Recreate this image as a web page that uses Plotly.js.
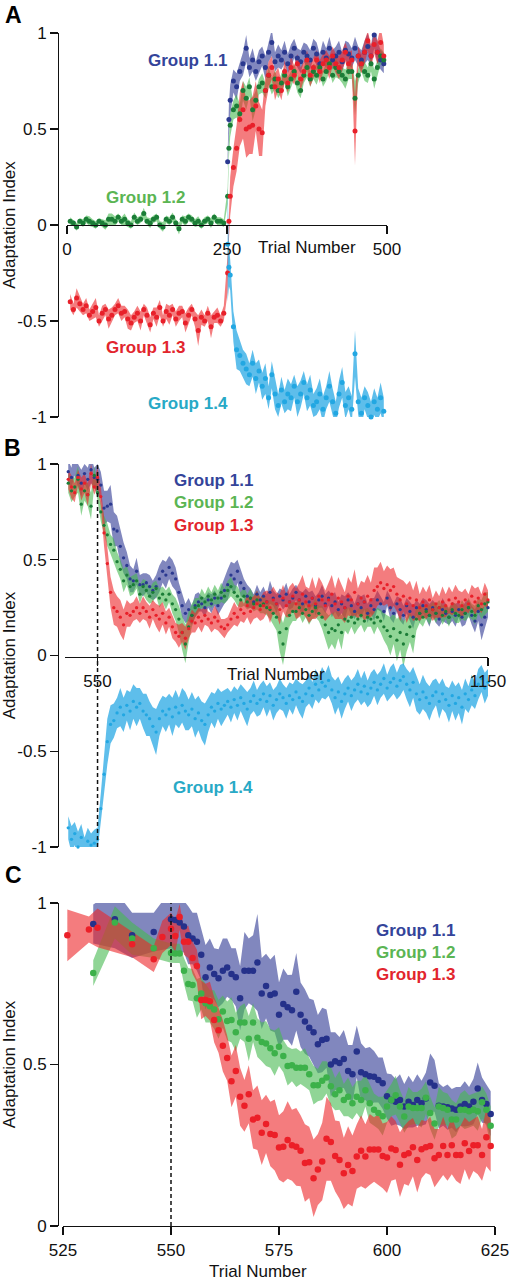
<!DOCTYPE html>
<html><head><meta charset="utf-8">
<script src="https://cdn.plot.ly/plotly-3.0.1.min.js"></script>
<style>html,body{margin:0;padding:0;background:#fff}#chart{width:511px;height:1280px}</style>
</head><body><div id="chart"></div>
<script>
// ---------------- Panel A data ----------------
const trialsPreA = [5,10,15,20,25,30,35,40,45,50,55,60,65,70,75,80,85,90,95,100,105,110,115,120,125,130,135,140,145,150,155,160,165,170,175,180,185,190,195,200,205,210,215,220,225,230,235,240,245];
const greenPreA = [0.02,0.01,-0.01,0.02,0.01,0.03,0.02,0.01,0.00,0.02, 0.01,0.00,0.03,0.03,0.02,0.04,0.02,0.03,0.01,0.00, 0.04,0.02,0.03,0.06,0.02,0.01,0.03,0.04,0.00,-0.01, 0.03,0.02,0.04,0.01,-0.02,0.03,0.02,0.04,0.03,0.01, 0.02,0.00,0.02,0.03,0.01,0.04,0.02,0.02,0.01];
const greenPreA_se = [0.02,0.015,0.02,0.015,0.02,0.02,0.025,0.02,0.02,0.015, 0.02,0.025,0.03,0.03,0.025,0.02,0.02,0.03,0.02,0.02, 0.025,0.02,0.02,0.03,0.02,0.025,0.02,0.02,0.02,0.025, 0.02,0.02,0.025,0.02,0.03,0.02,0.025,0.02,0.02,0.02, 0.025,0.02,0.02,0.02,0.025,0.02,0.02,0.02,0.02];
const redPreA = [-0.40,-0.44,-0.38,-0.41,-0.44,-0.42,-0.47,-0.45,-0.43,-0.50, -0.46,-0.44,-0.49,-0.47,-0.44,-0.42,-0.46,-0.45,-0.49,-0.51, -0.48,-0.46,-0.50,-0.44,-0.47,-0.52,-0.46,-0.48,-0.43,-0.50, -0.45,-0.47,-0.44,-0.49,-0.46,-0.45,-0.51,-0.47,-0.44,-0.49, -0.55,-0.48,-0.50,-0.46,-0.53,-0.48,-0.47,-0.50,-0.46];
const redPreA_se = [0.04,0.03,0.05,0.04,0.03,0.04,0.03,0.04,0.05,0.03, 0.04,0.03,0.05,0.04,0.03,0.04,0.04,0.03,0.05,0.04, 0.03,0.04,0.05,0.03,0.04,0.04,0.03,0.05,0.04,0.03, 0.04,0.05,0.03,0.04,0.04,0.03,0.05,0.04,0.03,0.04, 0.08,0.04,0.03,0.04,0.06,0.03,0.04,0.03,0.04];

const trialsPostA = [251,253,255,260,265,270,275,280,285,290,295,300,305,310,315,320,325,330,335,340,345,350,355,360,365,370,375,380,385,390,395,400,405,410,415,420,425,430,435,440,445,450,455,460,465,470,475,480,485,490,495];
const bluePostA = [0.33,0.55,0.65,0.75,0.72,0.80,0.84,0.92,0.82,0.86, 0.80,0.85,0.88,0.82,0.90,0.95,0.85,0.88,0.86,0.90, 0.84,0.88,0.92,0.87,0.85,0.90,0.88,0.86,0.92,0.89, 0.84,0.90,0.87,0.92,0.86,0.88,0.90,0.85,0.91,0.89, 0.87,0.92,0.88,0.86,0.90,0.93,0.88,0.99,0.90,0.86, 0.84];
const bluePostA_se = [0.04,0.08,0.08,0.06,0.07,0.05,0.06,0.07,0.05,0.06, 0.05,0.06,0.05,0.06,0.05,0.07,0.05,0.06,0.05,0.06, 0.05,0.06,0.05,0.05,0.06,0.05,0.06,0.05,0.05,0.06, 0.05,0.06,0.05,0.06,0.05,0.05,0.06,0.05,0.05,0.06, 0.05,0.06,0.05,0.05,0.06,0.07,0.05,0.07,0.06,0.05, 0.05];
const greenPostA = [0.15,0.40,0.52,0.60,0.62,0.58,0.70,0.66,0.72,0.60, 0.65,0.72,0.74,0.70,0.78,0.72,0.76,0.70,0.74,0.78, 0.72,0.76,0.80,0.74,0.70,0.78,0.82,0.76,0.80,0.78, 0.82,0.76,0.80,0.84,0.78,0.82,0.80,0.78,0.76,0.80, 0.80,0.66,0.78,0.84,0.80,0.78,0.84,0.76,0.82,0.88, 0.86];
const greenPostA_se = [0.04,0.05,0.06,0.05,0.06,0.05,0.05,0.06,0.05,0.06, 0.05,0.04,0.05,0.04,0.05,0.04,0.05,0.04,0.05,0.04, 0.05,0.04,0.04,0.05,0.04,0.04,0.05,0.04,0.04,0.05, 0.04,0.04,0.05,0.04,0.04,0.05,0.04,0.04,0.05,0.04, 0.04,0.09,0.04,0.04,0.05,0.04,0.04,0.05,0.04,0.04, 0.04];
const redPostA = [-0.25,0.02,0.15,0.30,0.40,0.55,0.60,0.50,0.51,0.52, 0.62,0.50,0.48,0.70,0.78,0.82,0.72,0.76,0.70,0.80, 0.74,0.82,0.78,0.84,0.76,0.80,0.86,0.78,0.82,0.86, 0.80,0.84,0.86,0.82,0.88,0.84,0.82,0.86,0.90,0.84, 0.86,0.49,0.88,0.84,0.90,0.96,0.88,0.94,0.90,0.95, 0.88];
const redPostA_se = [0.10,0.10,0.10,0.10,0.12,0.14,0.15,0.15,0.14,0.15, 0.13,0.14,0.12,0.08,0.07,0.06,0.07,0.06,0.05,0.06, 0.05,0.06,0.05,0.05,0.06,0.05,0.05,0.06,0.05,0.05, 0.06,0.05,0.05,0.06,0.05,0.05,0.06,0.05,0.05,0.06, 0.05,0.18,0.05,0.05,0.06,0.05,0.06,0.05,0.06,0.08, 0.06];
const cyanPostA = [-0.10,-0.22,-0.26,-0.53,-0.65,-0.68,-0.72,-0.75,-0.78,-0.72, -0.80,-0.76,-0.84,-0.80,-0.90,-0.78,-0.88,-0.94,-0.86,-0.92, -0.88,-0.90,-0.84,-0.92,-0.88,-0.82,-0.90,-0.86,-0.94,-0.92, -0.88,-0.96,-0.90,-0.84,-0.92,-0.98,-0.88,-0.82,-0.94,-0.90, -0.96,-0.67,-0.92,-0.98,-0.90,-0.94,-1.00,-0.92,-0.96,-0.90, -0.97];
const cyanPostA_se = [0.30,0.10,0.08,0.08,0.10,0.08,0.07,0.08,0.06,0.07, 0.08,0.06,0.07,0.08,0.06,0.07,0.08,0.06,0.07,0.06, 0.08,0.07,0.06,0.08,0.07,0.06,0.07,0.08,0.06,0.07, 0.08,0.07,0.06,0.08,0.07,0.06,0.07,0.08,0.07,0.06, 0.07,0.12,0.07,0.08,0.06,0.07,0.08,0.07,0.06,0.08, 0.07];

// ---------------- Panel B data ----------------
const trialsB = [505,510,515,520,525,530,535,540,545,550, 555,560,565,570,575,580,585,590,595,600, 605,610,615,620,625,630,635,640,645,650, 655,660,665,670,675,680,685,690,695,700, 705,710,715,720,725,730,735,740,745,750, 755,760,765,770,775,780,785,790,795,800, 805,810,815,820,825,830,835,840,845,850, 855,860,865,870,875,880,885,890,895,900, 905,910,915,920,925,930,935,940,945,950, 955,960,965,970,975,980,985,990,995,1000, 1005,1010,1015,1020,1025,1030,1035,1040,1045,1050, 1055,1060,1065,1070,1075,1080,1085,1090,1095,1100, 1105,1110,1115,1120,1125,1130,1135,1140,1145,1150];
const blueB = [0.96,0.93,1.02,0.94,0.90,0.95,0.92,0.97,0.93,0.92, 0.89,0.77,0.78,0.79,0.66,0.65,0.57,0.51,0.47,0.40, 0.39,0.44,0.37,0.37,0.38,0.36,0.34,0.36,0.40,0.44, 0.42,0.46,0.43,0.40,0.33,0.26,0.22,0.24,0.21,0.26, 0.28,0.27,0.25,0.29,0.27,0.30,0.26,0.30,0.34,0.37, 0.42,0.40,0.44,0.38,0.35,0.31,0.30,0.28,0.32,0.29, 0.31,0.28,0.33,0.30,0.27,0.31,0.29,0.32,0.28,0.30, 0.33,0.29,0.27,0.31,0.28,0.30,0.26,0.29,0.31,0.27, 0.30,0.26,0.28,0.24,0.27,0.25,0.29,0.26,0.23,0.27, 0.25,0.28,0.22,0.26,0.24,0.29,0.27,0.23,0.30,0.25, 0.22,0.27,0.24,0.21,0.26,0.23,0.20,0.25,0.22,0.26, 0.24,0.21,0.25,0.22,0.19,0.24,0.22,0.20,0.23,0.21, 0.24,0.20,0.22,0.25,0.21,0.18,0.23,0.16,0.20,0.25];
const blueB_se = [0.06,0.05,0.08,0.06,0.07,0.05,0.06,0.07,0.05,0.08, 0.07,0.09,0.08,0.10,0.09,0.08,0.09,0.08,0.07,0.07, 0.06,0.07,0.05,0.06,0.05,0.06,0.05,0.06,0.07,0.06, 0.07,0.06,0.07,0.06,0.05,0.06,0.05,0.06,0.05,0.06, 0.05,0.04,0.05,0.04,0.05,0.04,0.05,0.06,0.07,0.08, 0.07,0.08,0.06,0.07,0.05,0.06,0.05,0.04,0.05,0.04, 0.05,0.04,0.06,0.04,0.05,0.04,0.05,0.06,0.04,0.05, 0.04,0.05,0.06,0.04,0.05,0.04,0.05,0.04,0.06,0.05, 0.04,0.06,0.05,0.04,0.05,0.06,0.04,0.05,0.04,0.05, 0.06,0.04,0.05,0.04,0.06,0.05,0.04,0.05,0.04,0.06, 0.05,0.04,0.06,0.05,0.04,0.05,0.06,0.04,0.05,0.04, 0.05,0.06,0.04,0.05,0.04,0.06,0.05,0.04,0.05,0.06, 0.04,0.05,0.06,0.04,0.05,0.06,0.05,0.08,0.06,0.05];
const greenB = [0.90,0.86,0.88,0.92,0.79,0.86,0.84,0.78,0.94,0.85, 0.75,0.68,0.63,0.58,0.55,0.49,0.45,0.39,0.42,0.36, 0.37,0.39,0.32,0.36,0.34,0.31,0.33,0.35,0.30,0.32, 0.29,0.32,0.27,0.24,0.19,0.12,0.06,0.15,0.21,0.25, 0.26,0.30,0.28,0.31,0.29,0.32,0.30,0.33,0.31,0.34, 0.36,0.33,0.31,0.29,0.31,0.28,0.30,0.27,0.29,0.26, 0.27,0.25,0.24,0.22,0.20,0.12,0.06,0.14,0.21,0.23, 0.23,0.25,0.22,0.24,0.21,0.23,0.25,0.22,0.20,0.16, 0.12,0.14,0.13,0.16,0.12,0.19,0.18,0.20,0.17,0.19, 0.21,0.18,0.20,0.19,0.17,0.20,0.18,0.15,0.13,0.10, 0.14,0.08,0.12,0.06,0.11,0.15,0.10,0.19,0.22,0.20, 0.23,0.21,0.24,0.22,0.25,0.21,0.23,0.20,0.24,0.22, 0.21,0.24,0.22,0.25,0.23,0.21,0.26,0.24,0.27,0.28];
const greenB_se = [0.05,0.06,0.05,0.07,0.06,0.05,0.06,0.07,0.05,0.04, 0.05,0.05,0.06,0.05,0.06,0.05,0.05,0.06,0.05,0.05, 0.05,0.04,0.05,0.04,0.05,0.04,0.05,0.04,0.05,0.04, 0.05,0.04,0.05,0.06,0.07,0.09,0.10,0.08,0.06,0.05, 0.04,0.05,0.04,0.05,0.04,0.05,0.04,0.05,0.04,0.05, 0.05,0.04,0.05,0.04,0.05,0.04,0.05,0.04,0.05,0.04, 0.05,0.04,0.05,0.06,0.07,0.10,0.11,0.09,0.06,0.05, 0.05,0.04,0.05,0.04,0.05,0.04,0.05,0.04,0.06,0.07, 0.09,0.08,0.10,0.07,0.09,0.06,0.07,0.05,0.06,0.05, 0.05,0.06,0.05,0.04,0.06,0.05,0.06,0.07,0.08,0.10, 0.08,0.11,0.09,0.12,0.09,0.08,0.09,0.06,0.05,0.05, 0.04,0.05,0.04,0.05,0.04,0.05,0.04,0.05,0.04,0.05, 0.04,0.05,0.04,0.05,0.04,0.05,0.04,0.05,0.06,0.05];
const redB = [0.92,0.88,0.85,0.93,0.87,0.90,0.84,0.95,0.88,0.93, 0.83,0.64,0.48,0.33,0.25,0.23,0.20,0.16,0.22,0.21, 0.23,0.25,0.22,0.25,0.23,0.20,0.24,0.21,0.19,0.22, 0.17,0.20,0.15,0.12,0.10,0.12,0.09,0.14,0.18,0.17, 0.20,0.18,0.21,0.19,0.17,0.20,0.18,0.15,0.14,0.16, 0.19,0.22,0.20,0.24,0.22,0.26,0.23,0.25,0.27,0.24, 0.26,0.28,0.25,0.29,0.27,0.24,0.30,0.26,0.28,0.31, 0.27,0.29,0.32,0.28,0.26,0.30,0.27,0.31,0.29,0.26, 0.29,0.32,0.27,0.30,0.28,0.25,0.31,0.29,0.33,0.27, 0.30,0.28,0.31,0.29,0.34,0.36,0.38,0.35,0.37,0.34, 0.36,0.32,0.29,0.31,0.27,0.30,0.26,0.29,0.25,0.28, 0.26,0.29,0.24,0.27,0.25,0.28,0.26,0.29,0.27,0.30, 0.28,0.26,0.29,0.27,0.31,0.28,0.30,0.27,0.32,0.29];
const redB_se = [0.05,0.06,0.05,0.04,0.06,0.05,0.06,0.05,0.04,0.05, 0.05,0.07,0.08,0.08,0.09,0.08,0.09,0.08,0.07,0.06, 0.05,0.06,0.05,0.06,0.05,0.06,0.05,0.06,0.07,0.06, 0.06,0.05,0.06,0.05,0.06,0.05,0.06,0.05,0.06,0.05, 0.05,0.06,0.05,0.04,0.05,0.06,0.05,0.04,0.05,0.04, 0.05,0.06,0.05,0.06,0.05,0.06,0.07,0.06,0.07,0.06, 0.07,0.06,0.08,0.07,0.06,0.08,0.07,0.06,0.08,0.07, 0.08,0.09,0.10,0.08,0.09,0.11,0.08,0.10,0.09,0.08, 0.09,0.10,0.08,0.11,0.09,0.08,0.10,0.09,0.12,0.08, 0.09,0.10,0.11,0.09,0.12,0.10,0.11,0.09,0.10,0.11, 0.10,0.09,0.11,0.08,0.10,0.09,0.08,0.10,0.07,0.08, 0.07,0.08,0.06,0.07,0.06,0.08,0.06,0.07,0.06,0.07, 0.06,0.07,0.06,0.05,0.06,0.07,0.06,0.05,0.06,0.05];
const cyanB = [-0.90,-0.96,-0.93,-1.00,-0.95,-1.01,-0.97,-0.99,-0.98,-0.96, -0.80,-0.62,-0.45,-0.36,-0.34,-0.30,-0.27,-0.31,-0.26,-0.29, -0.24,-0.27,-0.25,-0.29,-0.31,-0.33,-0.37,-0.40,-0.33,-0.29, -0.31,-0.28,-0.32,-0.27,-0.30,-0.26,-0.29,-0.31,-0.28,-0.33, -0.30,-0.34,-0.36,-0.31,-0.27,-0.29,-0.25,-0.28,-0.26,-0.24, -0.27,-0.23,-0.26,-0.22,-0.25,-0.28,-0.24,-0.21,-0.25,-0.23, -0.20,-0.24,-0.21,-0.26,-0.23,-0.20,-0.22,-0.25,-0.21,-0.23, -0.19,-0.22,-0.24,-0.20,-0.17,-0.21,-0.15,-0.18,-0.14,-0.16, -0.13,-0.18,-0.22,-0.19,-0.24,-0.20,-0.17,-0.21,-0.18,-0.15, -0.19,-0.16,-0.20,-0.17,-0.14,-0.18,-0.15,-0.12,-0.17,-0.14, -0.12,-0.16,-0.13,-0.11,-0.15,-0.18,-0.14,-0.20,-0.23,-0.19, -0.22,-0.25,-0.21,-0.19,-0.24,-0.20,-0.23,-0.26,-0.21,-0.25, -0.22,-0.27,-0.20,-0.23,-0.18,-0.21,-0.15,-0.12,-0.17,-0.14];
const cyanB_se = [0.06,0.07,0.06,0.08,0.07,0.06,0.07,0.06,0.07,0.06, 0.08,0.10,0.12,0.10,0.09,0.08,0.10,0.09,0.08,0.10, 0.09,0.10,0.08,0.09,0.11,0.09,0.10,0.12,0.09,0.08, 0.09,0.08,0.10,0.09,0.08,0.09,0.10,0.08,0.09,0.10, 0.09,0.10,0.11,0.09,0.08,0.09,0.08,0.09,0.08,0.07, 0.08,0.07,0.08,0.07,0.08,0.09,0.07,0.08,0.07,0.08, 0.07,0.08,0.07,0.08,0.07,0.08,0.07,0.08,0.07,0.08, 0.07,0.08,0.09,0.07,0.08,0.07,0.08,0.07,0.08,0.07, 0.08,0.07,0.09,0.08,0.09,0.08,0.07,0.08,0.07,0.08, 0.07,0.08,0.07,0.08,0.07,0.08,0.07,0.08,0.07,0.08, 0.08,0.07,0.08,0.07,0.08,0.09,0.08,0.09,0.08,0.09, 0.08,0.09,0.08,0.07,0.09,0.08,0.07,0.09,0.08,0.09, 0.08,0.09,0.08,0.07,0.08,0.07,0.08,0.07,0.08,0.07];

// ---------------- Panel C data ----------------
const trialsPostC = [551,552,553,554,555,556,557,558,559,560, 561,562,563,564,565,566,567,568,569,570, 571,572,573,574,575,576,577,578,579,580, 581,582,583,584,585,586,587,588,589,590, 591,592,593,594,595,596,597,598,599,600, 601,602,603,604,605,606,607,608,609,610, 611,612,613,614,615,616,617,618,619,620, 621,622,623,624];
const trialsPreC_blue = [532,537,541,546,550];
const bluePreC = [0.935,0.95,0.90,0.91,0.95];
const bluePreC_se = [0.06,0.09,0.07,0.06,0.09];
const bluePostC = [0.947,0.94,0.927,0.90,0.89,0.88,0.84,0.77,0.80,0.78, 0.767,0.79,0.80,0.78,0.77,0.705,0.79,0.79,0.79,0.816, 0.72,0.743,0.715,0.72,0.654,0.687,0.677,0.668,0.725,0.654, 0.633,0.614,0.60,0.563,0.576,0.58,0.50,0.51,0.505,0.517, 0.48,0.47,0.54,0.476,0.47,0.464,0.462,0.452,0.442,0.402, 0.39,0.385,0.39,0.37,0.385,0.375,0.39,0.38,0.395,0.444, 0.434,0.372,0.37,0.368,0.364,0.36,0.37,0.378,0.37,0.385, 0.426,0.39,0.378,0.347];
const bluePostC_se = [0.10,0.09,0.08,0.09,0.08,0.09,0.08,0.10,0.09,0.08, 0.09,0.10,0.09,0.08,0.09,0.10,0.12,0.10,0.11,0.15, 0.11,0.10,0.11,0.12,0.10,0.11,0.10,0.11,0.12,0.10, 0.10,0.09,0.10,0.09,0.10,0.09,0.10,0.09,0.08,0.09, 0.08,0.09,0.08,0.09,0.08,0.09,0.08,0.07,0.08,0.07, 0.08,0.07,0.08,0.07,0.08,0.07,0.08,0.07,0.08,0.09, 0.08,0.07,0.06,0.07,0.06,0.07,0.06,0.07,0.06,0.07, 0.08,0.07,0.06,0.07];
const trialsPreC_green = [532,537,541,546,550];
const greenPreC = [0.783,0.94,0.89,0.86,0.845];
const greenPreC_se = [0.04,0.05,0.05,0.03,0.03];
const greenPostC = [0.844,0.844,0.79,0.749,0.746,0.705,0.72,0.69,0.68,0.67, 0.64,0.664,0.635,0.638,0.60,0.63,0.63,0.58,0.63,0.583, 0.57,0.565,0.55,0.535,0.555,0.526,0.495,0.498,0.49,0.49, 0.49,0.47,0.436,0.436,0.45,0.46,0.433,0.408,0.42,0.39, 0.40,0.38,0.40,0.39,0.42,0.38,0.36,0.35,0.34,0.37, 0.39,0.405,0.37,0.339,0.37,0.365,0.365,0.365,0.397,0.35, 0.317,0.37,0.365,0.36,0.33,0.33,0.36,0.36,0.355,0.36, 0.355,0.383,0.36,0.31];
const greenPostC_se = [0.03,0.03,0.04,0.05,0.05,0.06,0.05,0.06,0.05,0.06, 0.06,0.05,0.06,0.07,0.06,0.05,0.06,0.07,0.06,0.06, 0.06,0.07,0.06,0.07,0.06,0.05,0.06,0.05,0.06,0.05, 0.06,0.05,0.06,0.05,0.06,0.05,0.06,0.05,0.06,0.05, 0.06,0.05,0.05,0.06,0.05,0.06,0.05,0.05,0.06,0.05, 0.05,0.06,0.05,0.05,0.06,0.05,0.05,0.06,0.05,0.05, 0.05,0.06,0.05,0.05,0.06,0.05,0.05,0.06,0.05,0.05, 0.06,0.05,0.05,0.06];
const trialsPreC_red = [526,531,533,541,546,548,550];
const redPreC = [0.90,0.918,0.923,0.872,0.826,0.895,0.92];
const redPreC_se = [0.08,0.04,0.06,0.04,0.04,0.05,0.05];
const redPostC = [0.898,0.957,0.88,0.88,0.83,0.805,0.70,0.70,0.696,0.638, 0.606,0.558,0.52,0.448,0.48,0.40,0.372,0.408,0.33,0.335, 0.289,0.316,0.285,0.282,0.243,0.245,0.266,0.25,0.245,0.233, 0.195,0.197,0.148,0.175,0.20,0.27,0.26,0.217,0.204,0.163, 0.189,0.17,0.215,0.233,0.215,0.237,0.237,0.237,0.217,0.212, 0.24,0.235,0.19,0.22,0.225,0.244,0.204,0.238,0.244,0.248, 0.21,0.22,0.248,0.22,0.25,0.22,0.22,0.256,0.232,0.25, 0.25,0.22,0.275,0.248];
const redPostC_se = [0.05,0.04,0.04,0.05,0.05,0.05,0.06,0.05,0.06,0.07, 0.07,0.08,0.07,0.08,0.08,0.09,0.08,0.09,0.09,0.10, 0.10,0.09,0.10,0.11,0.10,0.11,0.12,0.11,0.12,0.11, 0.12,0.11,0.12,0.11,0.12,0.13,0.12,0.11,0.12,0.11, 0.12,0.11,0.10,0.11,0.10,0.11,0.10,0.11,0.10,0.11, 0.10,0.09,0.10,0.09,0.10,0.09,0.10,0.09,0.08,0.09, 0.09,0.08,0.09,0.08,0.09,0.08,0.09,0.08,0.09,0.08, 0.09,0.08,0.09,0.08];

// ---------------- Axis ticks / labels ----------------
const yTickVals = [-1,-0.5,0,0.5,1];
const yTickText = ['-1','-0.5','0','0.5','1'];
const yTickValsC = [0,0.5,1];
const yTickTextC = ['0','0.5','1'];
const xTicksA = [0,250,500];
const xTicksB = [550,1150];
const xTicksC = [525,550,575,600,625];
const shiftTrial = 550;
const groupNames = ['Group 1.1','Group 1.2','Group 1.3','Group 1.4'];

// ---------------- Styles ----------------
const FONT = 'Arial, "Liberation Sans", Helvetica, sans-serif';
const FILL = {blue:'rgba(52,62,150,0.62)', green:'rgba(70,185,80,0.6)', red:'rgba(236,36,40,0.6)', cyan:'rgba(40,168,228,0.75)'};
const DOT = {blue:'#2b3990', green:'#1b7d37', red:'#e8202a', cyan:'#22a7e2'};
const DOTC = {blue:'#25318a', green:'#3cb14a', red:'#ec1f28'};
const LABEL = {blue:'#34449a', green:'#5bb553', red:'#e2252d', cyan:'#28a9c6'};

const traces = [];
function band(x, m, se, xa, ya, color) {
  const up = m.map((v, i) => v + se[i]);
  const lo = m.map((v, i) => v - se[i]);
  traces.push({type:'scatter', mode:'lines', x:x.concat(x.slice().reverse()),
    y:up.concat(lo.slice().reverse()), fill:'toself', fillcolor:color,
    line:{width:0, color:color}, xaxis:xa, yaxis:ya, hoverinfo:'skip', showlegend:false});
}
function dots(x, m, xa, ya, color, size) {
  traces.push({type:'scatter', mode:'markers', x:x, y:m, xaxis:xa, yaxis:ya,
    marker:{color:color, size:size, line:{width:0}}, hoverinfo:'skip', showlegend:false, cliponaxis:false});
}
function vline(xa, ya, y0, y1) {
  traces.push({type:'scatter', mode:'lines', x:[shiftTrial, shiftTrial], y:[y0, y1], xaxis:xa, yaxis:ya,
    line:{color:'#111', width:1.5, dash:'4px,3px'}, hoverinfo:'skip', showlegend:false});
}

// Panel A
const greenAx = trialsPreA.concat(trialsPostA), greenAy = greenPreA.concat(greenPostA), greenAse = greenPreA_se.concat(greenPostA_se);
const redAx = trialsPreA.concat(trialsPostA), redAy = redPreA.concat(redPostA), redAse = redPreA_se.concat(redPostA_se);
band(trialsPostA, bluePostA, bluePostA_se, 'x', 'y', FILL.blue);
band(greenAx, greenAy, greenAse, 'x', 'y', FILL.green);
band(redAx, redAy, redAse, 'x', 'y', FILL.red);
band(trialsPostA, cyanPostA, cyanPostA_se, 'x', 'y', FILL.cyan);
dots(trialsPostA, bluePostA, 'x', 'y', DOT.blue, 5);
dots(greenAx, greenAy, 'x', 'y', DOT.green, 5);
dots(redAx, redAy, 'x', 'y', DOT.red, 5);
dots(trialsPostA, cyanPostA, 'x', 'y', DOT.cyan, 5);

// Panel B
band(trialsB, blueB, blueB_se, 'x2', 'y2', FILL.blue);
band(trialsB, greenB, greenB_se, 'x2', 'y2', FILL.green);
band(trialsB, redB, redB_se, 'x2', 'y2', FILL.red);
band(trialsB, cyanB, cyanB_se, 'x2', 'y2', FILL.cyan);
dots(trialsB, blueB, 'x2', 'y2', DOT.blue, 3.3);
dots(trialsB, greenB, 'x2', 'y2', DOT.green, 3.3);
dots(trialsB, redB, 'x2', 'y2', DOT.red, 3.3);
dots(trialsB, cyanB, 'x2', 'y2', DOT.cyan, 3.3);
vline('x2', 'y2', -1, 1);

// Panel C
const blueCx = trialsPreC_blue.concat(trialsPostC), blueCy = bluePreC.concat(bluePostC), blueCse = bluePreC_se.concat(bluePostC_se);
const greenCx = trialsPreC_green.concat(trialsPostC), greenCy = greenPreC.concat(greenPostC), greenCse = greenPreC_se.concat(greenPostC_se);
const redCx = trialsPreC_red.concat(trialsPostC), redCy = redPreC.concat(redPostC), redCse = redPreC_se.concat(redPostC_se);
band(blueCx, blueCy, blueCse, 'x3', 'y3', FILL.blue);
band(greenCx, greenCy, greenCse, 'x3', 'y3', FILL.green);
band(redCx, redCy, redCse, 'x3', 'y3', FILL.red);
dots(blueCx, blueCy, 'x3', 'y3', DOTC.blue, 6.5);
dots(greenCx, greenCy, 'x3', 'y3', DOTC.green, 6.5);
dots(redCx, redCy, 'x3', 'y3', DOTC.red, 6.5);
vline('x3', 'y3', 0, 1);

// ---------------- Layout ----------------
const W = 511, H = 1280;
const px = v => v / W, py = v => 1 - v / H;
function ax(extra) {
  return Object.assign({showline:true, linecolor:'#111', linewidth:1.3, ticks:'outside', ticklen:8,
    tickwidth:1.3, tickcolor:'#111', showgrid:false, zeroline:false, fixedrange:true, tickmode:'array',
    tickfont:{family:FONT, size:17, color:'#111'}, anchor:'free'}, extra);
}
const yTitle = {text:'Adaptation Index', font:{family:FONT, size:17, color:'#111'}, standoff:3};

const ann = [];
function txt(text, x, y, size, color, bold, extra) {
  ann.push(Object.assign({text: bold ? '<b>' + text + '</b>' : text, x:px(x), y:py(y), xref:'paper', yref:'paper',
    showarrow:false, xanchor:'center', yanchor:'middle', font:{family:FONT, size:size, color:color}}, extra || {}));
}
txt('A', 13, 15, 23, '#000', true);
txt('B', 12, 448, 23, '#000', true);
txt('C', 13, 875, 23, '#000', true);
txt('Trial Number', 307, 248, 17, '#111', false);
txt('Trial Number', 276, 674, 17, '#111', false);
txt('Trial Number', 258, 1271, 17, '#111', false);
// group labels panel A
txt(groupNames[0], 187, 61, 17, LABEL.blue, true);
txt(groupNames[1], 145, 198, 17, LABEL.green, true);
txt(groupNames[2], 145, 347, 17, LABEL.red, true);
txt(groupNames[3], 188, 403, 17, LABEL.cyan, true);
// panel B
txt(groupNames[0], 213, 480, 17, LABEL.blue, true);
txt(groupNames[1], 213, 502, 17, LABEL.green, true);
txt(groupNames[2], 213, 525, 17, LABEL.red, true);
txt(groupNames[3], 213, 787, 17, LABEL.cyan, true);
// panel C
txt(groupNames[0], 415, 930, 17, LABEL.blue, true);
txt(groupNames[1], 415, 952, 17, LABEL.green, true);
txt(groupNames[2], 415, 974, 17, LABEL.red, true);

const layout = {
  width:W, height:H, margin:{l:0, r:0, t:0, b:0}, paper_bgcolor:'#fff', plot_bgcolor:'rgba(0,0,0,0)',
  showlegend:false, hovermode:false, font:{family:FONT, size:17, color:'#111'},
  xaxis: ax({domain:[px(67), px(387)], range:[0,500], position:py(225), tickvals:xTicksA, ticktext:xTicksA.map(String)}),
  yaxis: ax({domain:[py(417), py(33)], range:[-1,1], position:px(58), tickvals:yTickVals, ticktext:yTickText, title:yTitle}),
  xaxis2: ax({domain:[px(65), px(488)], range:[500,1150], position:py(657), tickvals:xTicksB, ticktext:xTicksB.map(String)}),
  yaxis2: ax({domain:[py(847), py(464)], range:[-1,1], position:px(58), tickvals:yTickVals, ticktext:yTickText, title:yTitle}),
  xaxis3: ax({domain:[px(63), px(495)], range:[525,625], position:py(1226), tickvals:xTicksC, ticktext:xTicksC.map(String)}),
  yaxis3: ax({domain:[py(1226), py(903)], range:[0,1], position:px(58), tickvals:yTickValsC, ticktext:yTickTextC, title:yTitle}),
  annotations: ann
};
Plotly.newPlot('chart', traces, layout, {staticPlot:true, displayModeBar:false});
</script></body></html>
